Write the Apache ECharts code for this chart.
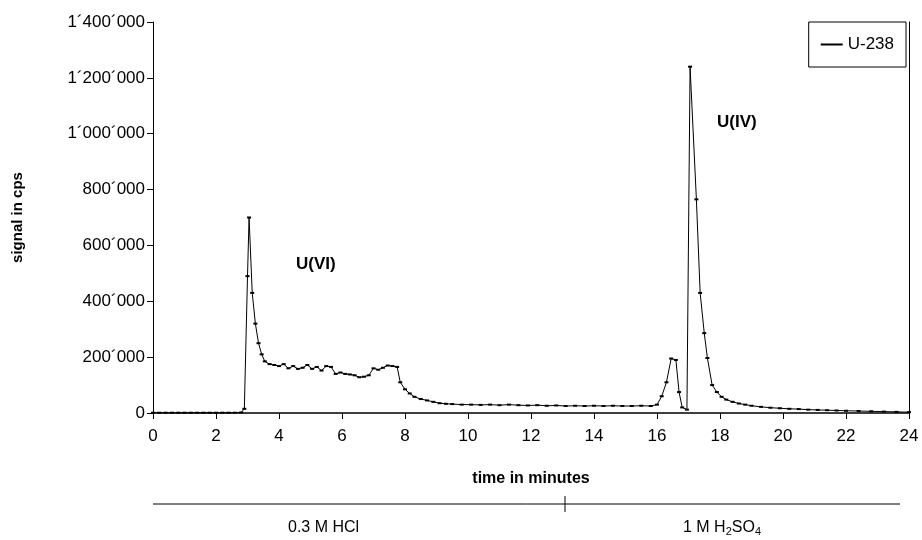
<!DOCTYPE html>
<html>
<head>
<meta charset="utf-8">
<script src="https://cdn.jsdelivr.net/npm/echarts@6/dist/echarts.min.js"></script>
<style>html,body{margin:0;background:#fff}#c{width:922px;height:540px}</style>
</head>
<body>
<div id="c"></div>
<script>
var times = [0,0.2,0.4,0.6,0.8,1.0,1.2,1.4,1.6,1.8,2.0,2.2,2.4,2.6,2.8,2.9,3.0,3.05,3.15,3.25,3.35,3.45,3.55,3.7,3.85,4.0,4.15,4.3,4.45,4.6,4.75,4.9,5.05,5.2,5.35,5.5,5.65,5.8,5.95,6.1,6.25,6.4,6.55,6.7,6.85,7.0,7.15,7.3,7.45,7.6,7.75,7.85,8.0,8.15,8.3,8.5,8.7,8.9,9.1,9.3,9.5,9.8,10.1,10.4,10.7,11.0,11.3,11.6,11.9,12.2,12.5,12.8,13.1,13.4,13.7,14.0,14.3,14.6,14.9,15.2,15.5,15.8,16.0,16.15,16.3,16.45,16.6,16.7,16.8,16.95,17.05,17.25,17.37,17.5,17.6,17.75,17.9,18.05,18.2,18.4,18.6,18.8,19.0,19.3,19.6,19.9,20.2,20.5,20.8,21.1,21.4,21.7,22.0,22.4,22.8,23.2,23.6,24.0];
var signal = [1000,1000,1000,1000,1000,1000,1000,1000,1000,1000,1000,1000,1000,1000,2000,15000,490000,700000,430000,320000,250000,210000,185000,175000,172000,168000,175000,160000,168000,158000,162000,172000,158000,165000,152000,168000,165000,140000,145000,140000,138000,135000,128000,130000,135000,160000,155000,162000,170000,168000,165000,110000,85000,70000,58000,50000,45000,40000,35000,33000,32000,30000,30000,29000,30000,28000,30000,28000,27000,28000,26000,27000,25000,26000,25000,26000,25000,26000,25000,25000,26000,25000,30000,60000,110000,195000,190000,75000,20000,12000,1240000,765000,430000,286000,197000,100000,75000,58000,48000,40000,34000,30000,26000,22000,19000,17000,15000,14000,12000,11000,10000,9000,8000,7000,6000,5000,4000,3000];

function fmt(v) {
  return String(v).replace(/\B(?=(\d{3})+(?!\d))/g, '\u00b4');
}

var chart = echarts.init(document.getElementById('c'));
var font = 'Liberation Sans, Arial, sans-serif';
chart.setOption({
  animation: false,
  textStyle: { fontFamily: font, color: '#000' },
  grid: { left: 153, right: 13, top: 22, bottom: 127 },
  legend: {
    right: 16, top: 22,
    data: ['U-238'],
    itemWidth: 22, itemHeight: 2,
    icon: 'rect',
    padding: [14, 12],
    borderColor: '#000', borderWidth: 1,
    textStyle: { fontSize: 17, color: '#000', fontFamily: font }
  },
  xAxis: {
    type: 'value', min: 0, max: 24, interval: 2,
    name: 'time in minutes', nameLocation: 'middle', nameGap: 58,
    nameTextStyle: { fontSize: 16, fontWeight: 'bold' },
    axisLine: { lineStyle: { color: '#000', width: 1.5 } },
    axisTick: { length: 6, lineStyle: { color: '#000' } },
    axisLabel: { fontSize: 17, color: '#000', margin: 15 },
    splitLine: { show: false }
  },
  yAxis: [{
    type: 'value', min: 0, max: 1400000, interval: 200000,
    name: 'signal in cps', nameLocation: 'middle', nameGap: 128,
    nameTextStyle: { fontSize: 15, fontWeight: 'bold' },
    axisLine: { show: true, lineStyle: { color: '#000' } },
    axisTick: { show: true, length: 6, lineStyle: { color: '#000' } },
    axisLabel: { fontSize: 17, color: '#000', formatter: fmt },
    splitLine: { show: false }
  }, {
    type: 'value', position: 'right', min: 0, max: 1400000,
    axisLine: { show: true, lineStyle: { color: '#000' } },
    axisTick: { show: false }, axisLabel: { show: false }, splitLine: { show: false }
  }],
  series: [{
    name: 'U-238', type: 'line',
    data: times.map(function (t, i) { return [t, signal[i]]; }),
    symbol: 'rect', symbolSize: [4, 2],
    lineStyle: { color: '#000', width: 1 },
    itemStyle: { color: '#000' }
  }],
  graphic: [
    { type: 'text', left: 296, top: 256, style: { text: 'U(VI)', fontSize: 17, fontWeight: 'bold', fontFamily: font, fill: '#000' } },
    { type: 'text', left: 717, top: 114, style: { text: 'U(IV)', fontSize: 17, fontWeight: 'bold', fontFamily: font, fill: '#000' } },
    { type: 'line', shape: { x1: 153, y1: 504, x2: 900, y2: 504 }, style: { stroke: '#000', lineWidth: 1 } },
    { type: 'line', shape: { x1: 565, y1: 496, x2: 565, y2: 512 }, style: { stroke: '#000', lineWidth: 1 } },
    { type: 'text', left: 288, top: 520, style: { text: '0.3 M HCl', fontSize: 16, fontFamily: font, fill: '#000' } },
    { type: 'text', left: 683, top: 520, style: {
      text: '1 M H{s|2}SO{s|4}', fontSize: 16, fontFamily: font, fill: '#000',
      rich: { s: { fontSize: 11, verticalAlign: 'bottom', padding: [8, 0, 0, 0], fontFamily: font } }
    } }
  ]
});
</script>
</body>
</html>
